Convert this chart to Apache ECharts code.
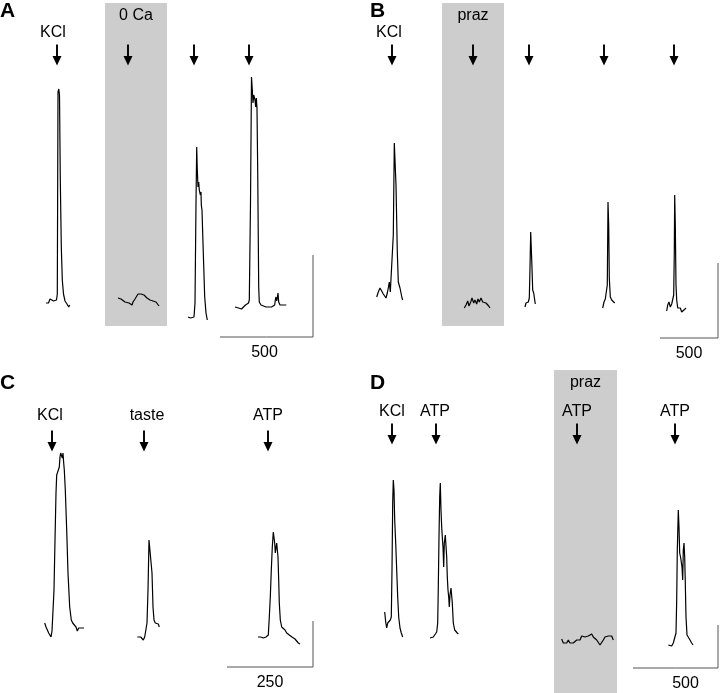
<!DOCTYPE html>
<html>
<head>
<meta charset="utf-8">
<script src="https://cdn.jsdelivr.net/npm/echarts@6/dist/echarts.min.js"></script>
<style>
html,body{margin:0;padding:0;background:#fff;}
#chart{width:720px;height:693px;}
</style>
</head>
<body>
<div id="chart"></div>
<script>
// ---------- DATA (x = frame, y = fluorescence change, a.u.) ----------
// Panel A
const traceA1 = [[46,-3],[47,-1],[48.5,-3],[50,1],[52,0],[53.5,-1],[55,1],[56.5,0],[57.3,6],[58,208],[58.8,211],[59.5,205],[60.3,120],[61.3,53],[62.3,20],[63.5,6],[65,-1],[67,-4],[68.7,-7],[69.7,-5]];
const traceA2 = [[118,2],[119,1],[120,0],[121,1],[122,-1],[123,0],[125,-2],[126,-1],[127,-3],[129,-3],[130,-4],[131,-3],[132,-5],[133,-2],[135,1],[136,3],[137,2],[138,6],[139,5],[140,7],[141,6],[142,8],[143,5],[144,5],[145,3],[146,4],[147,2],[148,2],[150,0],[151,1],[152,-2],[153,-1],[155,-3],[156,-2],[157,-4],[158,-3],[159,-6]];
const traceA3 = [[188,-17],[190.5,-18],[192.5,-19],[194,-17],[195,-3],[196,97],[196.7,153],[197.3,130],[198,113],[198.7,118],[199.3,110],[200.3,105],[201,108],[201.3,95],[202,90],[203.3,47],[204.7,3],[206,-13],[207.3,-20]];
const traceA4 = [[235,-7],[236.5,-6],[238.5,-8],[240,-7],[241.5,-9],[243.5,-7],[245.5,-5],[246.5,-7],[248.5,-3],[249.3,0],[250.5,97],[251.5,223],[252.3,210],[253,197],[253.7,205],[254.3,207],[255,200],[255.7,193],[256.3,202],[257,192],[257.7,130],[258.7,13],[259.3,-2],[261,-5],[263.5,-6],[266,-7],[268.5,-7],[271.5,-7],[273.5,-7],[274.7,-5],[275.3,0],[276,3],[276.7,-1],[277.3,2],[278,7],[278.7,-2],[280,-5],[281.7,-7],[283.3,-5],[285,-7],[286.3,-5]];
// Panel B
const traceB1 = [[16.7,3],[18.3,8],[20,12],[21.7,9],[23.3,6],[25,4],[26,2],[27.3,7],[28.3,12],[29.3,18],[30.3,8],[31.3,6],[32.3,8],[33.3,65],[34.3,157],[35,155],[36,115],[37.3,48],[38.3,18],[39.3,17],[40,12],[41,7],[42,2],[42.7,0]];
const traceB2 = [[104.3,-8],[106,-5],[107.7,-1],[109,-6],[110.7,-2],[112,2],[113.7,-3],[115,0],[116.7,-4],[118,1],[119.3,-2],[121,2],[122.7,-2],[124.3,0],[126,-3],[127.3,-1],[128.7,-6],[130,-8]];
const traceB3 = [[165,-7],[166,-3],[167.3,-2],[168.3,-2],[169.3,2],[170,32],[170.7,68],[171.3,67],[172,32],[172.7,10],[173.7,7],[174.7,0],[175.3,-4]];
const traceB4 = [[242.7,-8],[244,-2],[245.3,1],[246.3,2],[247.3,15],[248,98],[248.7,75],[249.3,22],[250.3,3],[251.7,0],[253.3,-2],[254.7,-3]];
const traceB5 = [[306.7,-11],[307.7,-5],[309,-2],[310.3,-7],[311.7,-4],[312.7,-2],[313.7,5],[314.3,48],[314.7,105],[315.3,75],[316,15],[316.7,0],[317.7,-8],[319,-10],[320.3,-8],[321.7,-12],[323.3,-12],[325,-9],[326,-8]];
// Panel C
const traceC1 = [[44.7,17],[46,13],[47.3,12],[48.7,7],[50,9],[51,3],[52,9],[53,8],[54,50],[55,100],[56,147],[56.7,165],[58,167],[58.7,164],[59.3,173],[60,183],[60.7,187],[61.7,188],[62.3,182],[63,187],[63.7,177],[64.3,170],[65.3,150],[66.7,110],[68,67],[69.7,33],[71.3,20],[72.7,17],[74.3,15],[76,13],[77.3,9],[78.7,12],[80,10],[81.3,12],[82.7,11],[84,12]];
const traceC2 = [[137.3,3],[139,2],[140.7,3],[142,1],[143.3,0],[144.7,3],[146,5],[147,17],[148,50],[149,100],[150,101],[151,100],[152,67],[153,33],[154,20],[155.3,17],[156.3,15],[157.3,18],[158.3,16],[159.3,13]];
const traceC3 = [[258,3],[259.3,1],[260.7,3],[262,1],[263.3,2],[264.7,1],[266,3],[267.3,2],[268.3,5],[269.3,23],[270.3,43],[271.3,70],[272.3,93],[273.3,108],[274,110],[274.7,97],[275.3,87],[276,92],[276.7,97],[277.3,95],[278,83],[278.7,60],[279.3,37],[280.3,20],[281.7,13],[283.3,12],[285,10],[286.7,7],[288,9],[289.3,5],[290.7,7],[292,3],[293.3,3],[295,1],[296.7,0],[298.3,-3],[300,-4]];
// Panel D
const traceD1 = [[24.7,28],[25.7,18],[26.7,12],[27.7,17],[29,18],[30.3,20],[31.3,23],[32,70],[32.7,137],[33.3,160],[34,150],[34.7,120],[35.7,97],[36.7,70],[37.7,43],[38.7,23],[40,12],[41.3,7],[42.7,3]];
const traceD2 = [[70,2],[71.7,3],[73.3,3],[75,5],[76.7,8],[77.7,17],[78.3,53],[79,103],[79.7,143],[80.3,157],[81,130],[81.7,113],[82.3,103],[83,93],[83.7,73],[84.3,97],[85.3,105],[86,103],[86.7,83],[87.3,63],[88,50],[88.7,43],[89.3,33],[90,45],[91,52],[91.7,50],[92.3,37],[93.3,17],[94.7,10],[96,8],[97.3,7],[98.3,6]];
const traceD3 = [[201.7,1],[203.3,-3],[205,-1],[206.7,-3],[208.3,0],[210,-3],[211.7,-1],[213.3,-3],[215,-2],[216.7,0],[218.3,2],[220,0],[221.7,4],[223.3,5],[225,3],[226.7,5],[228.3,4],[230,3],[231.7,6],[233.3,3],[235,3],[236.7,0],[238.3,-2],[240,-5],[241.7,-3],[243.3,0],[245,3],[246.7,1],[248.3,4],[250,3],[251.7,4],[253.3,0]];
const traceD4 = [[308.3,-5],[310,-3],[311.7,-6],[313.3,-3],[315,-2],[316,7],[316.7,40],[317.3,90],[318.3,130],[319,113],[319.7,87],[320.7,82],[321.3,83],[322,73],[322.7,60],[323.3,90],[324,97],[324.7,83],[325.3,57],[326,23],[327,5],[328.3,3],[330,0],[331.7,-3],[333,-5]];

// stimulus times (frames) and labels
const stimTimesA = [57,128,194,249];
const stimLabelsA = ['KCl','','',''];
const stimTimesB = [32,113,169,244,314];
const stimLabelsB = ['KCl','','','',''];
const stimTimesC = [52,144,268];
const stimLabelsC = ['KCl','taste','ATP'];
const stimTimesD = [32,76,217,315];
const stimLabelsD = ['KCl','ATP','ATP','ATP'];

// shaded treatment periods (frames)
const boxA = [105,167]; const boxLabelA = '0 Ca';
const boxB = [82,144];  const boxLabelB = 'praz';
const boxD = [194,257]; const boxLabelD = 'praz';

// scale bars
const scaleLabels = ['500','500','250','500'];

// ---------- LAYOUT ----------
const FONT = '"Liberation Sans", Arial, Helvetica, sans-serif';
const panels = [
  {grid:{left:0,top:0,width:360,height:345}, y:[-45,300], traces:[traceA1,traceA2,traceA3,traceA4],
   stim:stimTimesA, stimLab:stimLabelsA, stimLevel:245, labDist:4, labOff:[-4,0,0,0],
   box:boxA, boxLab:boxLabelA, boxY:[297,-26],
   bar:{x:[220,313], y:[-37,45]}, barOff:-2, letter:'A', letterPos:[0,1]},
  {grid:{left:360,top:0,width:360,height:345}, y:[-45,300], traces:[traceB1,traceB2,traceB3,traceB4,traceB5],
   stim:stimTimesB, stimLab:stimLabelsB, stimLevel:245, labDist:4, labOff:[-3,0,0,0,0],
   box:boxB, boxLab:boxLabelB, boxY:[297,-26],
   bar:{x:[300,358], y:[-38,37]}, barOff:0, letter:'B', letterPos:[370,1]},
  {grid:{left:0,top:345,width:360,height:348}, y:[-53,295], traces:[traceC1,traceC2,traceC3],
   stim:stimTimesC, stimLab:stimLabelsC, stimLevel:199, labDist:7, labOff:[-2,3,0],
   box:null,
   bar:{x:[227,313], y:[-27,19]}, barOff:0, letter:'C', letterPos:[0,373]},
  {grid:{left:360,top:345,width:360,height:348}, y:[-53,295], traces:[traceD1,traceD2,traceD3,traceD4],
   stim:stimTimesD, stimLab:stimLabelsD, stimLevel:206, labDist:4, labOff:[0,-1,0,0],
   box:boxD, boxLab:boxLabelD, boxY:[270,-53],
   bar:{x:[273,358], y:[-28,15]}, barOff:10, letter:'D', letterPos:[370,373]}
];

const ARROW = 'path://M6.3,0 L9.7,0 L9.7,23 L16,23 L8,42 L0,23 L6.3,23 Z';

const grids=[], xAxes=[], yAxes=[], series=[], titles=[];
panels.forEach((p,i)=>{
  grids.push(p.grid);
  xAxes.push({type:'value', gridIndex:i, min:0, max:360, show:false});
  yAxes.push({type:'value', gridIndex:i, min:p.y[0], max:p.y[1], show:false});
  titles.push({text:p.letter, left:p.letterPos[0], top:p.letterPos[1], padding:0,
    textStyle:{fontSize:21, fontWeight:'bold', fontFamily:FONT, color:'#000'}});
  if (p.box) {
    series.push({type:'line', xAxisIndex:i, yAxisIndex:i, data:[], z:1, silent:true,
      markArea:{silent:true, itemStyle:{color:'#cdcdcd', opacity:1},
        label:{show:true, position:'insideTop', distance:5, color:'#000', fontSize:16, fontFamily:FONT},
        data:[[{name:p.boxLab, xAxis:p.box[0], yAxis:p.boxY[0]},{xAxis:p.box[1], yAxis:p.boxY[1]}]]}});
  }
  p.traces.forEach(t=>{
    series.push({type:'line', xAxisIndex:i, yAxisIndex:i, data:t, showSymbol:false, z:3,
      lineStyle:{color:'#000', width:1.2}, silent:true});
  });
  series.push({type:'scatter', xAxisIndex:i, yAxisIndex:i, z:4, silent:true,
    symbol:ARROW, symbolSize:[9,21], itemStyle:{color:'#000', opacity:1},
    data:p.stim.map((s,k)=>({value:[s,p.stimLevel],
      label:{show:p.stimLab[k]!=='', formatter:p.stimLab[k], position:'top', distance:p.labDist,
        offset:[p.labOff[k],0], color:'#000', fontSize:16, fontFamily:FONT}}))});
  const mid=(p.bar.x[0]+p.bar.x[1])/2;
  series.push({type:'line', xAxisIndex:i, yAxisIndex:i, z:3, silent:true,
    symbolSize:0, showSymbol:true, lineStyle:{color:'#555', width:1}, itemStyle:{color:'#555'},
    data:[[p.bar.x[0],p.bar.y[0]],
      {value:[mid,p.bar.y[0]], label:{show:true, formatter:scaleLabels[i], position:'bottom', distance:8,
        offset:[p.barOff,0], color:'#000', fontSize:16, fontFamily:FONT}},
      [p.bar.x[1],p.bar.y[0]],[p.bar.x[1],p.bar.y[1]]]});
});

const chart = echarts.init(document.getElementById('chart'), null, {renderer:'canvas'});
chart.setOption({animation:false, backgroundColor:'#fff', title:titles, grid:grids, xAxis:xAxes, yAxis:yAxes, series:series});
</script>
</body>
</html>
